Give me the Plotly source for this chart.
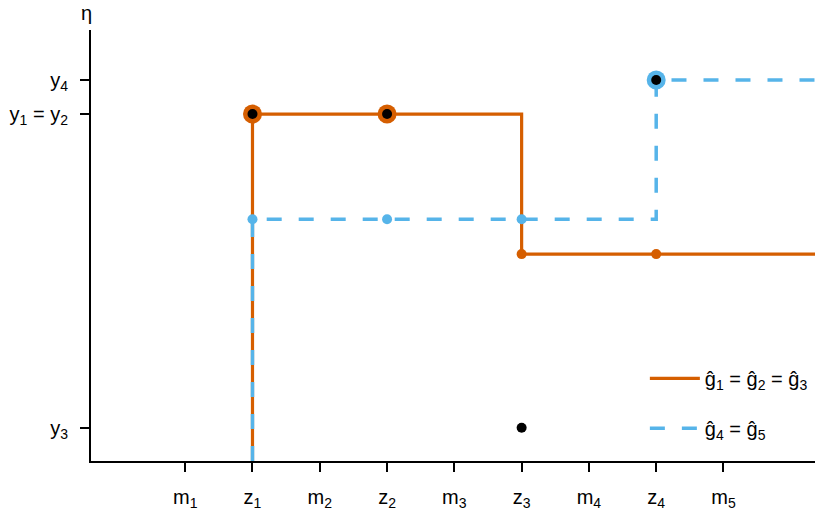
import plotly.graph_objects as go

ORANGE = "#D55E00"
BLUE = "#56B4E9"
FONT = "Liberation Sans, Arial, sans-serif"

# x positions (midpoints m_i and knots z_i)
m_pos = [1, 3, 5, 7, 9]
z_pos = [2, 4, 6, 8]
m_labels = ["m<sub>1</sub>", "m<sub>2</sub>", "m<sub>3</sub>", "m<sub>4</sub>", "m<sub>5</sub>"]
z_labels = ["z<sub>1</sub>", "z<sub>2</sub>", "z<sub>3</sub>", "z<sub>4</sub>"]

# observed responses y_i at the knots
y_obs = [8.05, 8.05, 0.77, 8.84]
y_tick_vals = [8.84, 8.05, 0.77]
y_tick_text = ["y<sub>4</sub>", "y<sub>1</sub> = y<sub>2</sub>", "y<sub>3</sub>"]

# fitted step functions
g123_x = [2, 2, 6, 6, 11]
g123_y = [0, 8.05, 8.05, 4.80, 4.80]
g45_x = [2, 2, 8, 8, 11]
g45_y = [0, 5.61, 5.61, 8.84, 8.84]

# points on the fitted functions at the knots
g123_pts_y = [8.05, 8.05, 4.80, 4.80]
g45_pts_y = [5.61, 5.61, 5.61, 8.84]

fig = go.Figure()

fig.add_trace(go.Scatter(x=g123_x, y=g123_y, mode="lines",
                         line=dict(color=ORANGE, width=3.2),
                         name="ĝ<sub>1</sub> = ĝ<sub>2</sub> = ĝ<sub>3</sub>",
                         legendgroup="a"))
fig.add_trace(go.Scatter(x=g45_x, y=g45_y, mode="lines",
                         line=dict(color=BLUE, width=3.5, dash="15px,17px"),
                         name="ĝ<sub>4</sub> = ĝ<sub>5</sub>",
                         legendgroup="b"))

# orange knot points: big rings at z1, z2 (where fit equals y), small dots elsewhere
fig.add_trace(go.Scatter(x=z_pos[:2], y=g123_pts_y[:2], mode="markers",
                         marker=dict(color=ORANGE, size=19), showlegend=False))
fig.add_trace(go.Scatter(x=z_pos[2:], y=g123_pts_y[2:], mode="markers",
                         marker=dict(color=ORANGE, size=10), showlegend=False))
# blue knot points
fig.add_trace(go.Scatter(x=z_pos[:3], y=g45_pts_y[:3], mode="markers",
                         marker=dict(color=BLUE, size=10), showlegend=False))
fig.add_trace(go.Scatter(x=z_pos[3:], y=g45_pts_y[3:], mode="markers",
                         marker=dict(color=BLUE, size=19), showlegend=False))
# observed points
fig.add_trace(go.Scatter(x=z_pos, y=y_obs, mode="markers",
                         marker=dict(color="black", size=10), showlegend=False))

tickvals = m_pos + z_pos
ticktext = m_labels + z_labels

fig.update_layout(
    width=815, height=512,
    margin=dict(l=91, r=0, t=30, b=51),
    plot_bgcolor="white", paper_bgcolor="white",
    font=dict(family=FONT, size=20, color="black"),
    legend=dict(x=0.765, y=0.237, xanchor="left", yanchor="top",
                bgcolor="rgba(0,0,0,0)", tracegroupgap=21,
                itemwidth=50, font=dict(size=20)),
    xaxis=dict(range=[-0.40, 10.36], showgrid=False, zeroline=False,
               showline=True, linecolor="black", linewidth=2,
               tickvals=tickvals, ticktext=ticktext,
               ticks="outside", ticklen=9, tickwidth=2, tickcolor="black",
               ticklabelstandoff=8, tickfont=dict(size=20)),
    yaxis=dict(range=[0, 10], showgrid=False, zeroline=False,
               showline=True, linecolor="black", linewidth=2,
               tickvals=y_tick_vals, ticktext=y_tick_text,
               ticks="outside", ticklen=9, tickwidth=2, tickcolor="black",
               ticklabelstandoff=8, tickfont=dict(size=20)),
    annotations=[dict(text="η", xref="paper", yref="paper", x=-0.006, y=1,
                      xanchor="center", yanchor="bottom", yshift=4,
                      showarrow=False, font=dict(size=20))],
)

fig.write_html("out.html", config={"displayModeBar": False},
               post_script="document.body.style.margin='0';")
